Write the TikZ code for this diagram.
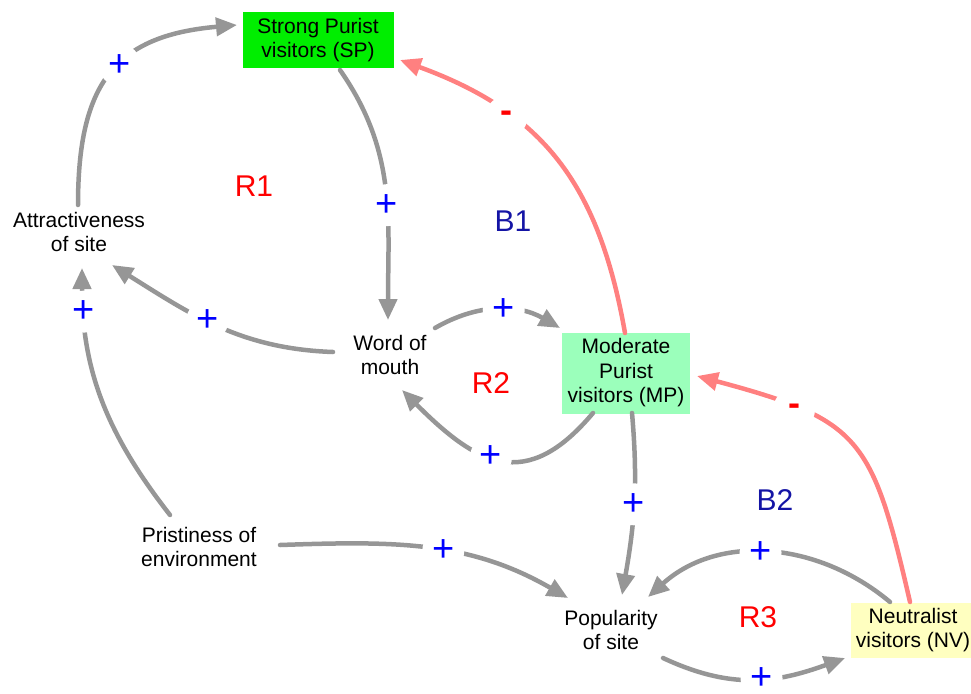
\documentclass[tikz,border=0pt]{standalone}
\usepackage{fontspec}
\setmainfont{Liberation Sans}
\usepackage{tikz}
\usetikzlibrary{calc,arrows.meta}

\definecolor{linkgray}{RGB}{150,150,150}
\definecolor{negred}{RGB}{255,128,128}
\definecolor{spgreen}{RGB}{0,238,0}
\definecolor{mpgreen}{RGB}{155,255,187}
\definecolor{nvyellow}{RGB}{255,255,192}
\definecolor{loopblue}{RGB}{20,20,165}

\begin{document}
\begin{tikzpicture}[x=1pt, y=1pt, >={Triangle[length=21pt,width=18pt]},
    var/.style={align=center, inner sep=4pt, font=\fontsize{21}{24.5}\selectfont},
    stock/.style={var, inner sep=0pt},
    link/.style={->, draw=linkgray, line width=4.5pt, line cap=round},
    neglink/.style={link, draw=negred},
    plus/.style={circle, fill=white, inner sep=0pt, minimum size=42pt,
      text=blue, font=\fontsize{38}{38}\selectfont},
    minus/.style={plus, text=red, font=\fontsize{36}{36}\selectfont\bfseries},
    loopR/.style={text=red, font=\fontsize{30}{30}\selectfont},
    loopB/.style={loopR, text=loopblue}]
    \useasboundingbox (0,0) rectangle (971,-693);

    % stocks
    \node[stock, fill=spgreen, minimum width=151pt, minimum height=56pt] (sp) at (318,-40) {Strong Purist\\visitors (SP)};
    \node[stock, fill=mpgreen, minimum width=128pt, minimum height=81pt] (mp) at (626,-373) {Moderate\\Purist\\visitors (MP)};
    \node[stock, fill=nvyellow, minimum width=124pt, minimum height=55pt] (nv) at (913,-630) {Neutralist\\visitors (NV)};

    % variables
    \node[var] (attr) at (79,-232) {Attractiveness\\of site};
    \node[var] (wom)  at (390,-355) {Word of\\mouth};
    \node[var] (pris) at (199,-547) {Pristiness of\\environment};
    \node[var] (pop)  at (611,-630) {Popularity\\of site};

    % loops
    \node[loopR] (r1) at (254,-186) {R1};
    \node[loopB] (b1) at (513,-221) {B1};
    \node[loopR] (r2) at (491,-383) {R2};
    \node[loopB] (b2) at (775,-500) {B2};
    \node[loopR] (r3) at (758,-617) {R3};

    \path ($(attr)+(-1,27)$)  edge[link, out=90, in=185, looseness=1.3]   node[plus, pos=.55] {+} ($(sp)+(-81,15)$)
          ($(sp)+(22,-30)$)   edge[link, out=-55, in=90]                  node[plus, pos=.57] {+} ($(wom)+(-2,35)$)
          ($(wom)+(45,27)$)   edge[link, out=30, in=150]                  node[plus, pos=.55] {+} ($(mp)+(-66,45)$)
          ($(wom)+(-57,3)$)   edge[link, out=178, in=-32]                 node[plus, pos=.55] {+} ($(attr)+(33,-33)$)
          ($(mp)+(-33,-40)$)  edge[link, out=-130, in=-45, looseness=1.4] node[plus, pos=.55] {+} ($(wom)+(12,-35)$)
          ($(mp)+(6,-40)$)    edge[link, out=-85, in=80]                  node[plus, pos=.5]  {+} ($(pop)+(11,35)$)
          ($(pris)+(-29,32)$) edge[link, out=128, in=-90]                 node[plus, pos=.85] {+} ($(attr)+(3,-36)$)
          ($(pris)+(81,2)$)   edge[link, out=2, in=150]                   node[plus, pos=.55] {+} ($(pop)+(-43,32)$)
          ($(nv)+(-23,28)$)   edge[link, out=140, in=42]                  node[plus, pos=.53] {+} ($(pop)+(37,33)$)
          ($(pop)+(52,-28)$)  edge[link, out=-25, in=200, looseness=1.05] node[plus, pos=.55] {+} ($(nv)+(-68,-28)$);

    \path ($(mp)+(-1,40)$)    edge[neglink, out=100, in=-20, looseness=1.1] node[minus, pos=.7, yshift=-3pt]  {-} ($(sp)+(82,-20)$)
          ($(nv)+(-3,28)$)    edge[neglink, out=103, in=-15, looseness=1.4] node[minus, pos=.75, yshift=-3pt] {-} ($(mp)+(71,-3)$);
\end{tikzpicture}
\end{document}
